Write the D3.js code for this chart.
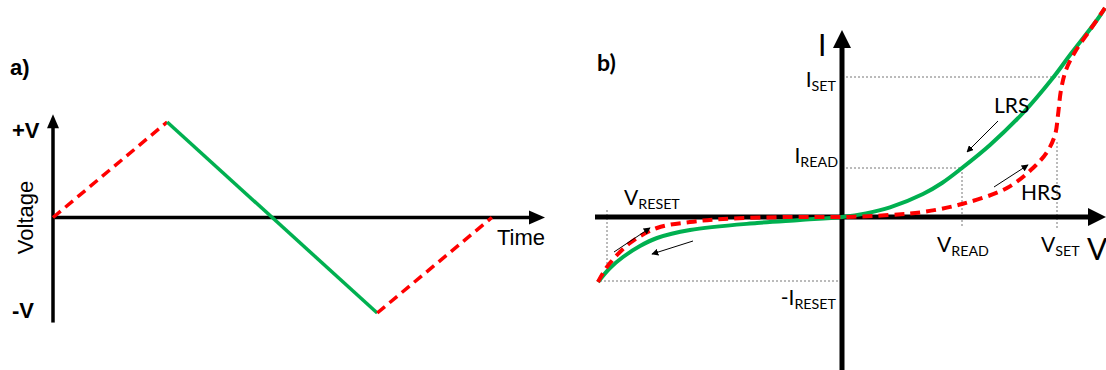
<!DOCTYPE html>
<html>
<head>
<meta charset="utf-8">
<script src="https://cdn.jsdelivr.net/npm/d3@7"></script>
<style>
  html, body { margin: 0; padding: 0; background: #fff; }
  svg { display: block; }
</style>
</head>
<body>
<div id="chart"></div>
<script>
// panel a: triangular voltage sweep (time in % of the axis, voltage in units of V)
const sweepTime = [0, 23.2, 65.9, 89.2]
const sweepVolt = [0, 1, -1, 0]
const sweepStyle = ['dash', 'solid', 'dash']   // segment i goes from point i to i+1
const voltTicks = ['+V', '-V']

// panel b: I-V curves, arbitrary units
const lrsV = [-2.44, -2.32, -2.19, -2.02, -1.85, -1.52, -0.85, -0.42, 0, 0.24, 0.48, 0.81, 1.00, 1.20, 1.48, 1.81, 2.10, 2.28, 2.55, 2.63]
const lrsI = [-0.65, -0.51, -0.40, -0.29, -0.21, -0.13, -0.06, -0.03, 0, 0.036, 0.096, 0.23, 0.34, 0.49, 0.72, 1.04, 1.38, 1.62, 1.97, 2.09]
const hrsV = [-2.44, -2.39, -2.32, -2.12, -1.85, -1.52, -1.19, -0.52, 0, 0.48, 0.81, 1.20, 1.65, 1.91, 2.05, 2.13, 2.16, 2.19, 2.24, 2.33, 2.48, 2.63]
const hrsI = [-0.65, -0.56, -0.46, -0.26, -0.11, -0.05, -0.02, 0, 0, 0.02, 0.05, 0.13, 0.29, 0.49, 0.65, 0.82, 1.02, 1.27, 1.47, 1.65, 1.87, 2.09]

const vRead = 1.20, iRead = 0.49
const vSet = 2.15, iSet = 1.40
const vReset = -2.35, iReset = -0.64

// small direction arrows [v1, i1, v2, i2]
const sweepArrows = [
    [1.56, 0.96, 1.25, 0.65],
    [1.52, 0.30, 1.86, 0.52],
    [-2.28, -0.35, -1.92, -0.11],
    [-1.49, -0.24, -1.90, -0.37]
]

const w = 1106
const h = 370
const green = '#00b050'
const red = '#ff0000'

const svg = d3.select('#chart')
    .append('svg')
    .attr('width', w)
    .attr('height', h)

const defs = svg.append('defs')
defs.append('marker')
    .attr('id', 'tip')
    .attr('viewBox', '0 0 10 10')
    .attr('refX', 9).attr('refY', 5)
    .attr('markerWidth', 7).attr('markerHeight', 7)
    .attr('markerUnits', 'userSpaceOnUse')
    .attr('orient', 'auto')
    .append('path')
    .attr('d', 'M0,0 L10,5 L0,10 Z')
    .attr('fill', '#000')

// ---------- panel a ----------
const xa = d3.scaleLinear().domain([0, 100]).range([53, 545])
const ya = d3.scaleLinear().domain([-1, 1]).range([313, 122])
const ga = svg.append('g').attr('font-family', 'Liberation Sans, Arial, sans-serif')

// axes
ga.append('line')
    .attr('x1', xa(0)).attr('x2', xa(97.5))
    .attr('y1', ya(0)).attr('y2', ya(0))
    .attr('stroke', '#000').attr('stroke-width', 3.5)
ga.append('path')
    .attr('d', `M${xa(100)},${ya(0)} l-16,-7 l0,14 Z`)
    .attr('fill', '#000')
ga.append('line')
    .attr('x1', xa(0)).attr('x2', xa(0))
    .attr('y1', ya(-1.1)).attr('y2', ya(1.0))
    .attr('stroke', '#000').attr('stroke-width', 3.5)
ga.append('path')
    .attr('d', `M${xa(0)},${ya(1.08)} l-6,14 l12,0 Z`)
    .attr('fill', '#000')

// sweep segments
const segs = d3.range(sweepTime.length - 1).map(i => ({
    x1: sweepTime[i], y1: sweepVolt[i], x2: sweepTime[i + 1], y2: sweepVolt[i + 1], style: sweepStyle[i]
}))
ga.selectAll('line.seg')
    .data(segs)
    .enter()
    .append('line')
    .attr('class', 'seg')
    .attr('x1', d => xa(d.x1)).attr('y1', d => ya(d.y1))
    .attr('x2', d => xa(d.x2)).attr('y2', d => ya(d.y2))
    .attr('stroke', d => d.style == 'dash' ? red : green)
    .attr('stroke-width', 3.5)
    .attr('stroke-dasharray', d => d.style == 'dash' ? '10,6' : null)

// labels
ga.append('text').text('a)')
    .attr('x', 10).attr('y', 75)
    .attr('font-size', 22).attr('font-weight', 'bold')
ga.selectAll('text.vt')
    .data(voltTicks)
    .enter()
    .append('text')
    .attr('class', 'vt')
    .text(d => d)
    .attr('x', 12)
    .attr('y', (d, i) => ya(i == 0 ? 1 : -1) + (i == 0 ? 16 : 5))
    .attr('font-size', 22).attr('font-weight', 'bold')
ga.append('text').text('Time')
    .attr('x', 497).attr('y', 245)
    .attr('font-size', 22)
ga.append('text').text('Voltage')
    .attr('transform', `translate(33,${ya(0)}) rotate(-90)`)
    .attr('text-anchor', 'middle')
    .attr('font-size', 22)

// ---------- panel b ----------
const xb = d3.scaleLinear().domain([-2.47, 2.64]).range([595, 1106])
const yb = d3.scaleLinear().domain([-1.53, 1.87]).range([370, 30])
const gb = svg.append('g').attr('font-family', 'Lato, Calibri, sans-serif')

// dotted reference lines
const refs = [
    [0, iSet, 2.20, iSet],
    [0, iRead, vRead, iRead],
    [vRead, iRead, vRead, -0.11],
    [vSet, 0.75, vSet, -0.11],
    [vReset, 0.07, vReset, -0.53],
    [-2.42, iReset, 0, iReset]
]
gb.selectAll('line.ref')
    .data(refs)
    .enter()
    .append('line')
    .attr('class', 'ref')
    .attr('x1', d => xb(d[0])).attr('y1', d => yb(d[1]))
    .attr('x2', d => xb(d[2])).attr('y2', d => yb(d[3]))
    .attr('stroke', '#777').attr('stroke-width', 1)
    .attr('stroke-dasharray', '2,2')

// axes
gb.append('line')
    .attr('x1', 595).attr('x2', xb(2.50))
    .attr('y1', yb(0)).attr('y2', yb(0))
    .attr('stroke', '#000').attr('stroke-width', 5)
gb.append('path')
    .attr('d', `M${xb(2.64)},${yb(0)} l-18,-9 l0,18 Z`)
    .attr('fill', '#000')
gb.append('line')
    .attr('x1', xb(0)).attr('x2', xb(0))
    .attr('y1', yb(-1.53)).attr('y2', yb(1.72))
    .attr('stroke', '#000').attr('stroke-width', 5)
gb.append('path')
    .attr('d', `M${xb(0)},${yb(1.87)} l-9,18 l18,0 Z`)
    .attr('fill', '#000')

// curves
const line = d3.line()
    .x(d => xb(d[0]))
    .y(d => yb(d[1]))
    .curve(d3.curveCatmullRom.alpha(0.5))

gb.append('path')
    .datum(lrsV.map((v, i) => [v, lrsI[i]]))
    .attr('d', line)
    .attr('fill', 'none')
    .attr('stroke', green)
    .attr('stroke-width', 4)

gb.append('path')
    .datum(hrsV.map((v, i) => [v, hrsI[i]]))
    .attr('d', line)
    .attr('fill', 'none')
    .attr('stroke', red)
    .attr('stroke-width', 4)
    .attr('stroke-dasharray', '10,6')

// direction arrows
gb.selectAll('line.arr')
    .data(sweepArrows)
    .enter()
    .append('line')
    .attr('class', 'arr')
    .attr('x1', d => xb(d[0])).attr('y1', d => yb(d[1]))
    .attr('x2', d => xb(d[2])).attr('y2', d => yb(d[3]))
    .attr('stroke', '#000').attr('stroke-width', 1)
    .attr('marker-end', 'url(#tip)')

// labels
function subLabel(x, y, main, sub, size, anchor) {
    const t = gb.append('text')
        .attr('x', x).attr('y', y)
        .attr('font-size', size)
        .attr('text-anchor', anchor || 'start')
    t.append('tspan').text(main)
    if (sub) t.append('tspan').text(sub).attr('font-size', size * 0.68).attr('dy', 4)
    return t
}
gb.append('text').text('b)')
    .attr('x', 597).attr('y', 71)
    .attr('font-size', 23).attr('font-weight', 'bold')
gb.append('text').text('I')
    .attr('x', 818).attr('y', 56)
    .attr('font-size', 30)
gb.append('text').text('V')
    .attr('x', 1087).attr('y', 260)
    .attr('font-size', 30)
subLabel(836, yb(iSet) + 10, 'I', 'SET', 21, 'end')
subLabel(838, yb(iRead) - 5, 'I', 'READ', 21, 'end')
subLabel(836, yb(iReset) + 24, '-I', 'RESET', 21, 'end')
subLabel(624, 205, 'V', 'RESET', 21)
subLabel(937, 252, 'V', 'READ', 21)
subLabel(1041, 252, 'V', 'SET', 21)
gb.append('text').text('LRS')
    .attr('x', 994).attr('y', 113)
    .attr('font-size', 21)
gb.append('text').text('HRS')
    .attr('x', 1021).attr('y', 200)
    .attr('font-size', 21)
</script>
</body>
</html>
